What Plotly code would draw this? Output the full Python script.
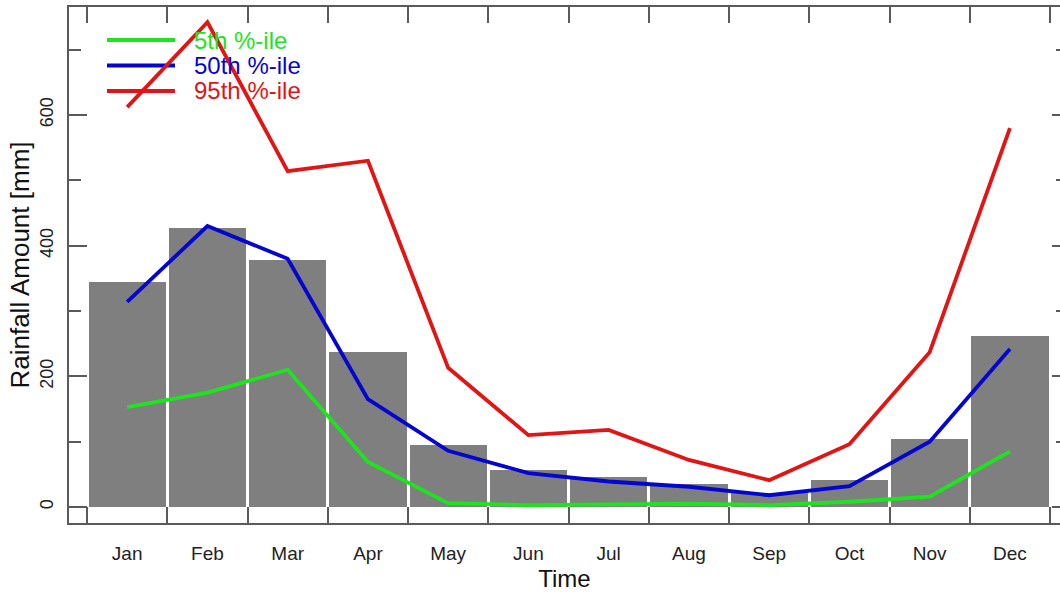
import plotly.graph_objects as go

months = ["Jan", "Feb", "Mar", "Apr", "May", "Jun", "Jul", "Aug", "Sep", "Oct", "Nov", "Dec"]
month_pos = [1, 2, 3, 4, 5, 6, 7, 8, 9, 10, 11, 12]
rain_bars = [344, 427, 378, 237, 95, 57, 46, 35, 22, 42, 104, 262]
p5 = [153, 175, 210, 69, 6, 3, 4, 5, 3, 8, 16, 85]
p50 = [314, 430, 380, 165, 86, 52, 39, 31, 18, 32, 100, 242]
p95 = [612, 742, 514, 530, 213, 110, 118, 72, 41, 96, 237, 580]
series_names = ["5th %-ile", "50th %-ile", "95th %-ile"]
series_colors = ["#1de51d", "#0505d0", "#e21414"]
y_major = [0, 200, 400, 600]
y_minor = [100, 300, 500, 700]
month_edges = [m - 0.5 for m in month_pos] + [month_pos[-1] + 0.5]

FONT = "Liberation Sans, Arial, sans-serif"
AX = "#5a5a5a"
W, H = 1060, 592
ML, MR, MT, MB = 69, 0, 7, 69
xr = [0.275, 12.624]
yr = [-24.5, 765.3]

fig = go.Figure()
fig.add_trace(go.Bar(x=month_pos, y=rain_bars, width=0.962, marker=dict(color="#7f7f7f", line=dict(width=0)),
                     showlegend=False, hoverinfo="skip"))
for vals, name, col in zip([p5, p50, p95], series_names, series_colors):
    fig.add_trace(go.Scatter(x=month_pos, y=vals, mode="lines", name=name,
                             line=dict(color=col, width=3.8), showlegend=False))

# manual legend (R style: long line sample + coloured text)
pw, ph = W - ML - MR, H - MT - MB
def px2paper(x, y):
    return (x - ML) / pw, (H - MB - y) / ph
for i, (name, col) in enumerate(zip(series_names, series_colors)):
    ly = 40 + i * 25.5
    x0, y0 = px2paper(107, ly)
    x1, _ = px2paper(175, ly)
    fig.add_shape(type="line", xref="paper", yref="paper", x0=x0, x1=x1, y0=y0, y1=y0,
                  line=dict(color=col, width=3.8), layer="below")
    tx, _ = px2paper(192, ly)
    fig.add_annotation(xref="paper", yref="paper", x=tx, y=y0, text=name, showarrow=False,
                       xanchor="left", yanchor="middle", font=dict(family=FONT, size=24, color=col))

fig.update_layout(
    width=W, height=H, margin=dict(l=ML, r=MR, t=MT, b=MB, autoexpand=False),
    paper_bgcolor="white", plot_bgcolor="white", bargap=0,
    font=dict(family=FONT, color="#222"),
    xaxis=dict(range=xr, tickmode="array", tickvals=month_pos, ticktext=months,
               ticks="inside", ticklen=0, tickfont=dict(size=19, color="#222"),
               ticklabelstandoff=12,
               minor=dict(tickmode="array", tickvals=month_edges, ticks="inside", ticklen=16,
                          tickcolor=AX, tickwidth=1.5),
               showline=True, linecolor=AX, linewidth=1.5, mirror=False,
               showgrid=False, zeroline=False,
               title=dict(text="Time", font=dict(size=24, color="#111"), standoff=12)),
    xaxis2=dict(range=xr, overlaying="x", side="top", tickmode="array", tickvals=month_edges,
                ticks="inside", ticklen=16, tickcolor=AX, tickwidth=1.5, showticklabels=False,
                showline=True, linecolor=AX, linewidth=1.5, showgrid=False, zeroline=False),
    yaxis=dict(range=yr, tickmode="array", tickvals=y_major, ticktext=[str(v) for v in y_major],
               ticks="inside", ticklen=18, tickcolor=AX, tickwidth=1.5, tickangle=-90,
               tickfont=dict(size=18, color="#222"), ticklabelstandoff=7,
               minor=dict(tickmode="array", tickvals=y_minor, ticks="inside", ticklen=12,
                          tickcolor=AX, tickwidth=1.5),
               showline=True, linecolor=AX, linewidth=1.5, showgrid=False, zeroline=False,
               title=dict(text="Rainfall Amount [mm]", font=dict(size=26, color="#111"), standoff=0)),
    yaxis2=dict(range=yr, overlaying="y", side="right", tickmode="array", tickvals=y_major,
                ticks="inside", ticklen=8, tickcolor=AX, tickwidth=1.5, showticklabels=False,
                minor=dict(tickmode="array", tickvals=y_minor, ticks="inside", ticklen=4,
                           tickcolor=AX, tickwidth=1.5),
                showline=False, showgrid=False, zeroline=False),
)
fig.add_trace(go.Scatter(x=[None], y=[None], xaxis="x2", yaxis="y2", showlegend=False, hoverinfo="skip"))
fig.write_html("out.html", config={"displayModeBar": False},
               post_script="document.body.style.margin='0';document.body.style.overflow='hidden';")
